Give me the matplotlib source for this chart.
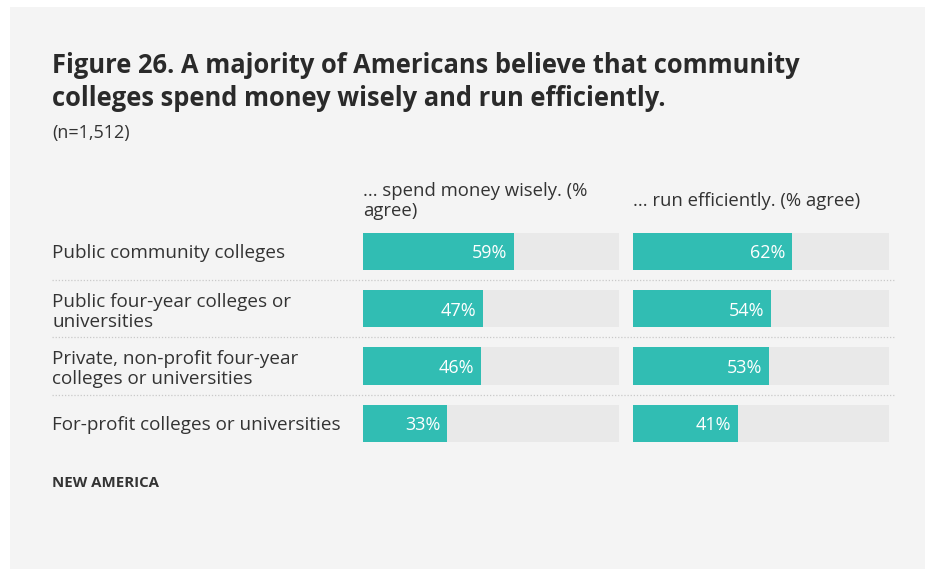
import matplotlib.pyplot as plt

plt.rcParams['font.family'] = ['Open Sans', 'DejaVu Sans']

# survey results, % agree
institutions = [
    "Public community colleges",
    "Public four-year colleges or\nuniversities",
    "Private, non-profit four-year\ncolleges or universities",
    "For-profit colleges or universities",
]
spend_wisely = [59, 47, 46, 33]
run_efficiently = [62, 54, 53, 41]
column_titles = ["... spend money wisely. (%\nagree)", "... run efficiently. (% agree)"]

title = ("Figure 26. A majority of Americans believe that community\n"
         "colleges spend money wisely and run efficiently.")
subtitle = "(n=1,512)"
source = "NEW AMERICA"

BG = "#f4f4f4"
TRACK = "#e9e9e9"
TEAL = "#31bdb3"
TEXT = "#333333"

W, H = 925, 569
fig = plt.figure(figsize=(W / 100, H / 100), dpi=100)
fig.patch.set_facecolor("white")

# grey card behind everything
card = fig.add_axes([10 / W, 0, 1 - 10 / W, 1 - 7 / H])
card.set_facecolor(BG)
card.set_xticks([])
card.set_yticks([])
for s in card.spines.values():
    s.set_visible(False)


def px_axes(x0, x1, y0, y1):
    # axes placed from pixel box (top-left origin)
    return fig.add_axes([x0 / W, 1 - y1 / H, (x1 - x0) / W, (y1 - y0) / H])


y_top, y_bot = 222.8, 452.0
rows = list(range(len(institutions)))

# dotted separators between rows, spanning labels and both columns
sep = px_axes(52, 895, y_top, y_bot)
sep.set_ylim(len(rows) - 0.5, -0.5)
sep.set_xlim(0, 1)
sep.axis("off")
for r in rows[:-1]:
    sep.axhline(r + 0.5, color="#c9c9c9", lw=0.9, ls=(0, (1, 1.5)))

for i, (vals, head, x0) in enumerate(zip([spend_wisely, run_efficiently], column_titles, [363, 633])):
    ax = px_axes(x0, x0 + 256, y_top, y_bot)
    ax.set_xlim(0, 100)
    ax.set_ylim(len(rows) - 0.5, -0.5)
    ax.patch.set_alpha(0)
    ax.barh(rows, [100] * len(rows), height=0.65, color=TRACK, lw=0)
    ax.barh(rows, vals, height=0.65, color=TEAL, lw=0)
    for r, v in zip(rows, vals):
        ax.text(v - 2.6, r + 0.035, f"{v}%", ha="right", va="center", color="white", fontsize=13)
    ax.set_xticks([])
    for s in ax.spines.values():
        s.set_visible(False)
    if i == 0:
        ax.set_yticks(rows)
        ax.set_yticklabels(institutions, fontsize=13.6, color=TEXT, ha="left", linespacing=1.15)
        ax.tick_params(axis="y", length=0, pad=(363 - 52) * 0.72)
    else:
        ax.set_yticks([])
    fig.text(x0 / W, 1 - 201 / H, head, ha="left", va="center", fontsize=13.3,
             color=TEXT, linespacing=1.2)

fig.text(52 / W, 1 - 82 / H, title, ha="left", va="center", fontsize=18.4,
         fontweight="bold", color="#2a2a2a", linespacing=1.3)
fig.text(52 / W, 1 - 133 / H, subtitle, ha="left", va="center", fontsize=13, color=TEXT)
fig.text(52 / W, 1 - 483 / H, source, ha="left", va="center", fontsize=10.8,
         fontweight="bold", color=TEXT)

fig.savefig("out.png", dpi=100, facecolor=fig.get_facecolor())
